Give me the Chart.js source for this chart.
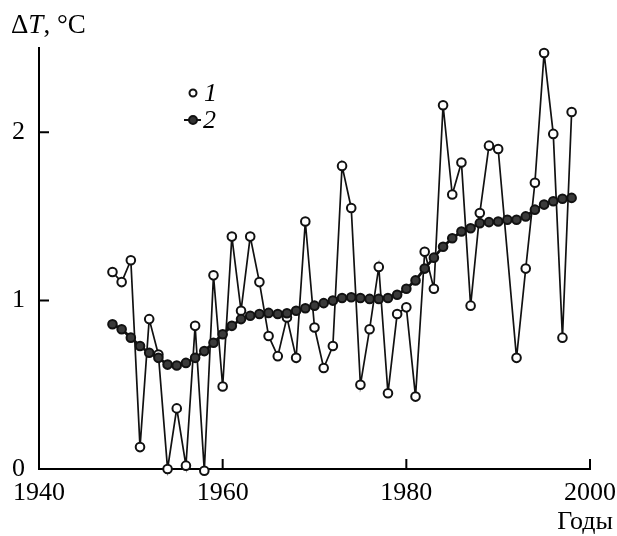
<!DOCTYPE html>
<html>
<head>
<meta charset="utf-8">
<script src="https://cdn.jsdelivr.net/npm/chart.js@4/dist/chart.umd.min.js"></script>
<style>
  html, body { margin: 0; padding: 0; background: #fff; }
  #wrap { width: 617px; height: 536px; }
</style>
</head>
<body>
<div id="wrap"><canvas id="graph" width="617" height="536"></canvas></div>
<script>
// years of observation
const years = [1948, 1949, 1950, 1951, 1952, 1953, 1954, 1955, 1956, 1957,
  1958, 1959, 1960, 1961, 1962, 1963, 1964, 1965, 1966, 1967,
  1968, 1969, 1970, 1971, 1972, 1973, 1974, 1975, 1976, 1977,
  1978, 1979, 1980, 1981, 1982, 1983, 1984, 1985, 1986, 1987,
  1988, 1989, 1990, 1991, 1992, 1993, 1994, 1995, 1996, 1997, 1998]

// series 1: annual values (1991 not marked on the figure)
const annualValues = [1.17, 1.11, 1.24, 0.13, 0.89, 0.68, 0.00, 0.36, 0.02, 0.85,
  -0.01, 1.15, 0.49, 1.38, 0.94, 1.38, 1.11, 0.79, 0.67, 0.90,
  0.66, 1.47, 0.84, 0.60, 0.73, 1.80, 1.55, 0.50, 0.83, 1.20,
  0.45, 0.92, 0.96, 0.43, 1.29, 1.07, 2.16, 1.63, 1.82, 0.97,
  1.52, 1.92, 1.90, null, 0.66, 1.19, 1.70, 2.47, 1.99, 0.78, 2.12]

// series 2: smoothed trend
const trendValues = [0.86, 0.83, 0.78, 0.73, 0.69, 0.66, 0.62, 0.615, 0.63, 0.66,
  0.70, 0.75, 0.80, 0.85, 0.89, 0.91, 0.92, 0.927, 0.92, 0.925,
  0.94, 0.955, 0.97, 0.985, 1.00, 1.015, 1.02, 1.015, 1.01, 1.01,
  1.015, 1.035, 1.07, 1.12, 1.19, 1.255, 1.32, 1.37, 1.41, 1.43,
  1.46, 1.466, 1.47, 1.48, 1.48, 1.50, 1.54, 1.57, 1.59, 1.605, 1.61]

const xTicks = [1940, 1960, 1980, 2000]
const yTicks = [0, 1, 2]

const legendLabels = ['1', '2']
const yTitle = ['\u0394', 'T', ', \u00B0C']
const xTitle = 'Годы'

const FONT = '"Liberation Serif", "DejaVu Serif", serif'

function toPoints(xs, ys) {
  let pts = []
  for (let i = 0; i < xs.length; ++i) {
    pts.push({ x: xs[i], y: ys[i] })
  }
  return pts
}

// inner ticks, axis titles, legend
const decorations = {
  id: 'decorations',
  afterDraw(chart) {
    const ctx = chart.ctx
    const xs = chart.scales.x
    const ys = chart.scales.y
    const area = chart.chartArea

    ctx.save()
    ctx.strokeStyle = '#000'
    ctx.lineWidth = 2
    ctx.beginPath()
    xTicks.forEach(v => {
      if (v === xs.min) return
      const px = xs.getPixelForValue(v)
      ctx.moveTo(px, area.bottom)
      ctx.lineTo(px, area.bottom - 10)
    })
    yTicks.forEach(v => {
      if (v === ys.min) return
      const py = ys.getPixelForValue(v)
      ctx.moveTo(area.left, py)
      ctx.lineTo(area.left + 10, py)
    })
    ctx.stroke()

    // y title: ΔT, °C
    ctx.fillStyle = '#000'
    ctx.textBaseline = 'alphabetic'
    ctx.textAlign = 'left'
    let tx = 11
    const ty = 33
    ctx.font = '27px ' + FONT
    ctx.fillText(yTitle[0], tx, ty)
    tx += ctx.measureText(yTitle[0]).width
    ctx.font = 'italic 27px ' + FONT
    ctx.fillText(yTitle[1], tx, ty)
    tx += ctx.measureText(yTitle[1]).width
    ctx.font = '27px ' + FONT
    ctx.fillText(yTitle[2], tx, ty)

    // x title
    ctx.textAlign = 'right'
    ctx.font = '26px ' + FONT
    ctx.fillText(xTitle, 613, 529)

    // legend
    const lx = 193
    const rows = [93, 120]
    ctx.lineWidth = 2
    ctx.strokeStyle = '#111'
    ctx.fillStyle = '#fff'
    ctx.beginPath()
    ctx.arc(lx, rows[0], 3.5, 0, Math.PI * 2)
    ctx.fill()
    ctx.stroke()

    ctx.beginPath()
    ctx.moveTo(lx - 9, rows[1])
    ctx.lineTo(lx + 8, rows[1])
    ctx.stroke()
    ctx.fillStyle = '#333'
    ctx.beginPath()
    ctx.arc(lx, rows[1], 4, 0, Math.PI * 2)
    ctx.fill()
    ctx.stroke()

    ctx.fillStyle = '#000'
    ctx.textAlign = 'left'
    ctx.textBaseline = 'middle'
    ctx.font = 'italic 26px ' + FONT
    ctx.fillText(legendLabels[0], 204, rows[0] + 1)
    ctx.fillText(legendLabels[1], 203, rows[1] + 1)
    ctx.restore()
  }
}

const ctx = document.getElementById('graph').getContext('2d')

let graph = new Chart(ctx, {
  type: 'line',
  data: {
    datasets: [
      {
        label: legendLabels[1],
        data: toPoints(years, trendValues),
        borderColor: '#111',
        borderWidth: 2.8,
        pointRadius: 4.3,
        pointBorderWidth: 2,
        pointBackgroundColor: '#3a3a3a',
        pointBorderColor: '#111',
        fill: false,
        tension: 0,
        clip: false,
        order: 0,
      },
      {
        label: legendLabels[0],
        data: toPoints(years, annualValues),
        borderColor: '#111',
        borderWidth: 1.7,
        pointRadius: 4.3,
        pointBorderWidth: 2,
        pointBackgroundColor: '#fff',
        pointBorderColor: '#111',
        spanGaps: true,
        fill: false,
        tension: 0,
        clip: false,
        order: 1,
      },
    ],
  },
  options: {
    responsive: false,
    animation: false,
    devicePixelRatio: 1,
    layout: { padding: { top: 48, right: 27, left: 0, bottom: 0 } },
    plugins: {
      legend: { display: false },
      tooltip: { enabled: false },
    },
    scales: {
      x: {
        type: 'linear',
        min: 1940,
        max: 2000,
        afterBuildTicks: scale => { scale.ticks = xTicks.map(v => ({ value: v })) },
        afterFit: scale => {
          scale.height = 67
          scale.paddingLeft = 0
          scale.paddingRight = 0
        },
        grid: { display: false, drawTicks: false },
        border: { display: true, color: '#000', width: 2 },
        ticks: {
          color: '#000',
          padding: 9,
          maxRotation: 0,
          font: { family: FONT, size: 26 },
          callback: v => String(v),
        },
      },
      y: {
        type: 'linear',
        min: 0,
        max: 2.5,
        afterBuildTicks: scale => { scale.ticks = yTicks.map(v => ({ value: v })) },
        afterFit: scale => {
          scale.width = 39
          scale.paddingTop = 0
          scale.paddingBottom = 0
        },
        grid: { display: false, drawTicks: false },
        border: { display: true, color: '#000', width: 2 },
        ticks: {
          color: '#000',
          padding: 14,
          font: { family: FONT, size: 26 },
          callback: v => String(v),
        },
      },
    },
  },
  plugins: [decorations],
})
</script>
</body>
</html>
